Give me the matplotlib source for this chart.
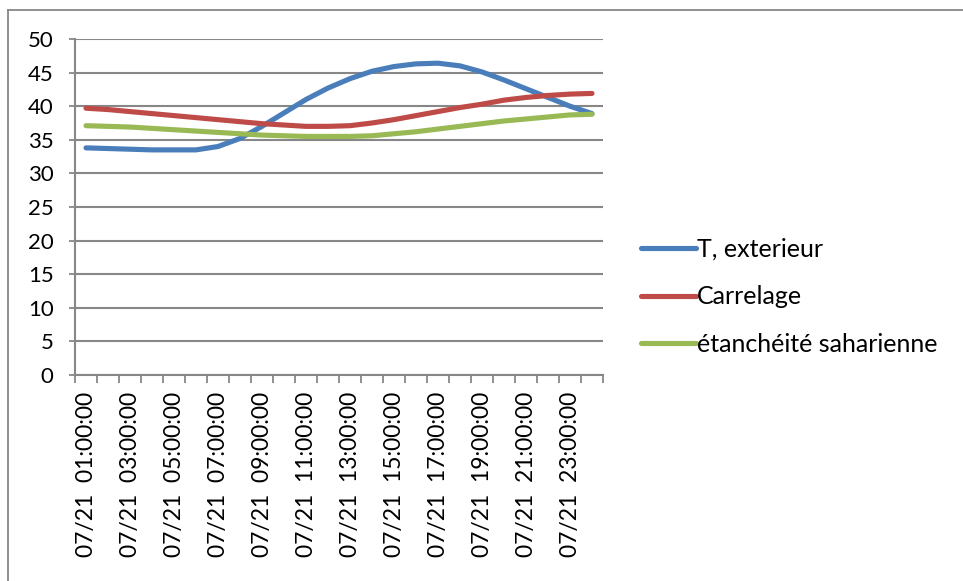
import matplotlib
matplotlib.use("Agg")
import matplotlib.pyplot as plt
from matplotlib.lines import Line2D
from matplotlib.ticker import FixedLocator

plt.rcParams['font.family'] = ['Lato', 'DejaVu Sans']

# Hourly temperatures for 21 July (01:00 .. 24:00)
hours = [f"07/21  {h:02d}:00:00" for h in range(1, 25)]
t_exterieur = [33.8, 33.7, 33.6, 33.5, 33.5, 33.5, 34.0, 35.2, 37.0, 39.0,
               41.0, 42.7, 44.1, 45.2, 45.9, 46.3, 46.4, 46.0, 45.1, 43.9,
               42.6, 41.3, 40.0, 38.9]
carrelage = [39.7, 39.5, 39.2, 38.9, 38.6, 38.3, 38.0, 37.7, 37.4, 37.2,
             37.0, 37.0, 37.1, 37.5, 38.0, 38.6, 39.2, 39.8, 40.3, 40.9,
             41.3, 41.6, 41.8, 41.9]
etancheite = [37.1, 37.0, 36.9, 36.7, 36.5, 36.3, 36.1, 35.9, 35.7, 35.6,
              35.5, 35.5, 35.5, 35.6, 35.9, 36.2, 36.6, 37.0, 37.4, 37.8,
              38.1, 38.4, 38.7, 38.8]
series_names = ["T, exterieur", "Carrelage", "étanchéité saharienne"]
series_colors = ["#4A7EBB", "#BE4B48", "#98B954"]
y_ticks = list(range(0, 51, 5))

W, H = 963, 581
fig = plt.figure(figsize=(W / 100, H / 100), dpi=100)
ax = fig.add_axes([75 / W, 1 - 375 / H, 528 / W, 336 / H])

x = list(range(len(hours)))
handles = []
for vals, name, col in zip([t_exterieur, carrelage, etancheite], series_names, series_colors):
    ln, = ax.plot(x, vals, color=col, lw=3.7, solid_capstyle='round',
                  solid_joinstyle='round', label=name, zorder=3)
    handles.append(ln)

grid_col = "#878787"
ax.set_xlim(-0.5, len(hours) - 0.5)
ax.set_ylim(0, 50)
ax.set_yticks(y_ticks)
ax.set_yticklabels([str(v) for v in y_ticks], fontsize=16)
ax.yaxis.grid(True, color=grid_col, lw=1.5)
ax.set_axisbelow(True)

ax.xaxis.set_major_locator(FixedLocator(x[::2]))
ax.set_xticklabels(hours[::2], rotation=90, fontsize=16.5, ha='center', va='top')
ax.xaxis.set_minor_locator(FixedLocator([i - 0.5 for i in range(len(hours) + 1)]))
ax.tick_params(axis='x', which='major', length=0, pad=12)
ax.tick_params(axis='x', which='minor', length=6, width=1.3, color=grid_col, direction='out')
ax.tick_params(axis='y', length=4.5, width=1.3, color=grid_col, direction='out', pad=11)

for side in ('top', 'right'):
    ax.spines[side].set_visible(False)
for side in ('left', 'bottom'):
    ax.spines[side].set_color(grid_col)
    ax.spines[side].set_linewidth(1.5)

fig.legend(handles=handles, loc='center left',
           bbox_to_anchor=(641 / W, 1 - 297 / H), frameon=False, fontsize=18,
           handlelength=2.2, handletextpad=0.04, labelspacing=0.98,
           borderpad=0, borderaxespad=0)

# chart frame (top and left edges)
fig.add_artist(Line2D([8 / W, 1], [1 - 9.5 / H, 1 - 9.5 / H], color=grid_col, lw=1.3,
                      transform=fig.transFigure))
fig.add_artist(Line2D([8 / W, 8 / W], [0, 1 - 9.5 / H], color=grid_col, lw=1.3,
                      transform=fig.transFigure))

fig.savefig("out.png", dpi=100, facecolor='white')
